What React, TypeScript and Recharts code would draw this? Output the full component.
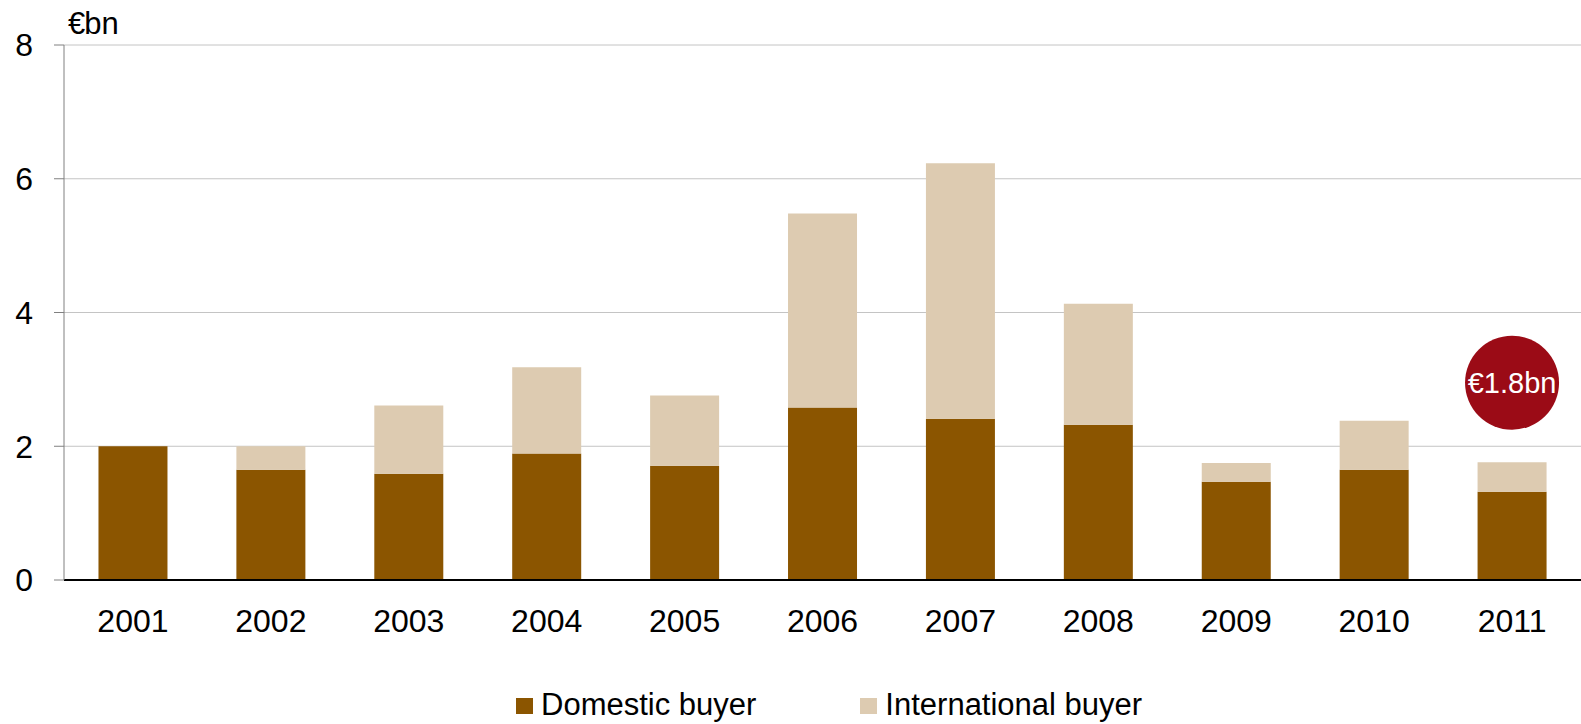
import { Bar, BarChart, CartesianGrid, ReferenceDot, XAxis, YAxis } from 'recharts'

const years = ['2001', '2002', '2003', '2004', '2005', '2006', '2007', '2008', '2009', '2010', '2011']
const domestic = [2.0, 1.65, 1.59, 1.89, 1.71, 2.58, 2.41, 2.32, 1.47, 1.65, 1.32]
const international = [0, 0.35, 1.02, 1.29, 1.05, 2.9, 3.82, 1.81, 0.28, 0.73, 0.44]
const yTicks = [0, 2, 4, 6, 8]

const series = [
  { key: 'domestic', name: 'Domestic buyer', color: '#8b5500' },
  { key: 'international', name: 'International buyer', color: '#ddcbb1' },
]

const data = years.map((year, i) => ({
  year,
  domestic: domestic[i],
  international: international[i],
}))

const font = '"Liberation Sans", Arial, sans-serif'

export default function App() {
  return (
    <div
      style={{
        position: 'absolute',
        left: 0,
        top: 0,
        width: 1581,
        height: 724,
        background: '#fff',
        fontFamily: font,
      }}
    >
      <BarChart
        width={1581}
        height={724}
        data={data}
        margin={{ top: 45, right: 0, left: 0, bottom: 74 }}
        barCategoryGap="25%"
      >
        <CartesianGrid vertical={false} stroke="#c4c4c4" />
        <XAxis
          dataKey="year"
          height={70}
          axisLine={{ stroke: '#000', strokeWidth: 2 }}
          tickLine={false}
          tickSize={0}
          tickMargin={29}
          tick={{ fill: '#000', fontSize: 32, fontFamily: font }}
        />
        <YAxis
          width={64}
          domain={[0, 8]}
          ticks={yTicks}
          axisLine={{ stroke: '#808080' }}
          tickLine={{ stroke: '#808080' }}
          tickSize={10}
          tickMargin={21}
          tick={{ fill: '#000', fontSize: 32, fontFamily: font }}
        />
        {series.map((s) => (
          <Bar
            key={s.key}
            dataKey={s.key}
            name={s.name}
            stackId="a"
            fill={s.color}
            isAnimationActive={false}
          />
        ))}
        <ReferenceDot
          x="2011"
          y={2.95}
          r={47}
          fill="#9b0b16"
          stroke="none"
          label={{ value: '€1.8bn', position: 'center', fill: '#fff', fontSize: 29, fontFamily: font }}
        />
      </BarChart>

      <div
        style={{
          position: 'absolute',
          left: 68,
          top: 8,
          fontSize: 31,
          lineHeight: '31px',
          color: '#000',
        }}
      >
        <span style={{ letterSpacing: -1 }}>€</span>bn
      </div>

      <div
        style={{
          position: 'absolute',
          left: 516,
          top: 689,
          display: 'flex',
          alignItems: 'center',
          fontSize: 31,
          lineHeight: '31px',
          color: '#000',
        }}
      >
        {series.map((s, i) => (
          <div
            key={s.key}
            style={{ display: 'flex', alignItems: 'center', marginLeft: i === 0 ? 0 : 104 }}
          >
            <span
              style={{
                display: 'inline-block',
                width: 17,
                height: 16,
                background: s.color,
                marginRight: 8,
                marginTop: 3,
              }}
            />
            <span>{s.name}</span>
          </div>
        ))}
      </div>
    </div>
  )
}
